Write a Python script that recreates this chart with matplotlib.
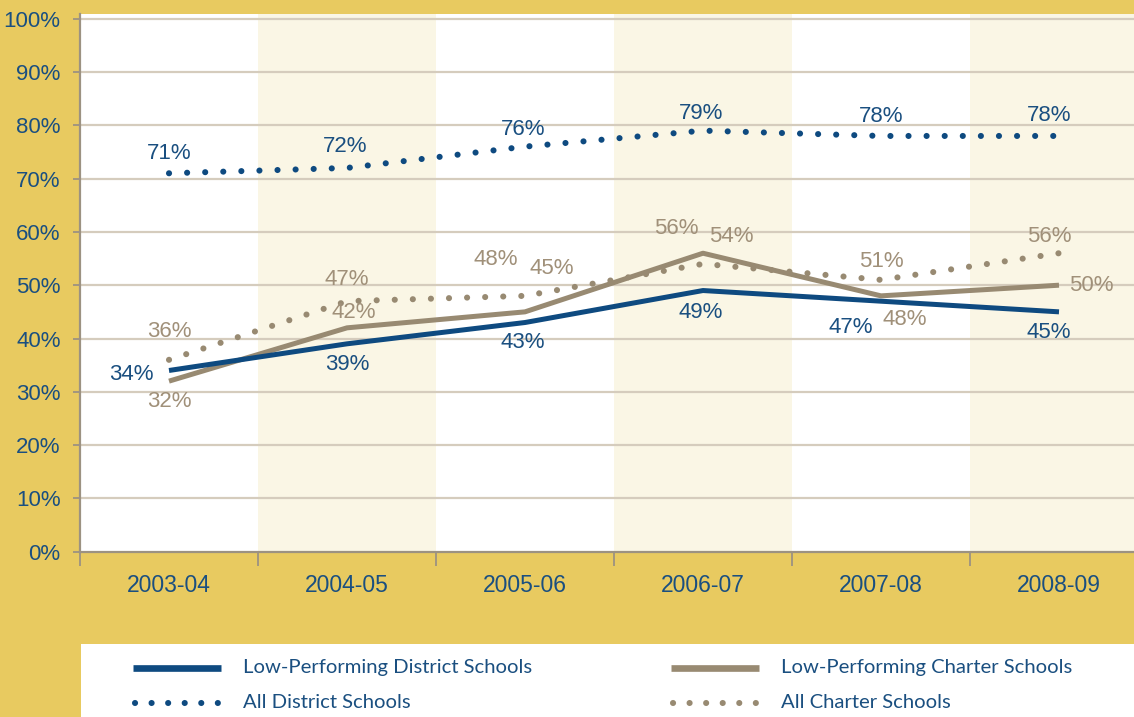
import matplotlib
matplotlib.use("Agg")
import matplotlib.pyplot as plt
from matplotlib.lines import Line2D
from matplotlib.patches import Rectangle

# ---- data ----
years = ["2003-04", "2004-05", "2005-06", "2006-07", "2007-08", "2008-09"]
low_district = [34, 39, 43, 49, 47, 45]
low_charter = [32, 42, 45, 56, 48, 50]
all_district = [71, 72, 76, 79, 78, 78]
all_charter = [36, 47, 48, 54, 51, 56]
yticks = [0, 10, 20, 30, 40, 50, 60, 70, 80, 90, 100]

# ---- label offsets (pixels) ----
off_low_district = [(-38, -4), (0, -21), (-2, -20), (-2, -22), (-30, -26), (-10, -21)]
off_low_charter = [(0, -20), (7, 15), (27, 43), (-27, 25), (24, -24), (32, 0)]
off_all_district = [(0, 20), (-2, 21), (-2, 17), (-2, 17), (0, 19), (-10, 20)]
off_all_charter = [(0, 28), (0, 22), (-29, 36), (28, 27), (0, 18), (-10, 17)]

NAVY = "#0E4A80"
NAVY_TXT = "#1A4F80"
TAN = "#988A72"
TAN_TXT = "#A09079"
GOLD = "#E8CA60"
CREAM = "#FAF6E5"
GRID = "#D5CCBD"
SPINE = "#9C9282"

W, H = 1134, 717
fig = plt.figure(figsize=(W / 100, H / 100), dpi=100)
fig.patch.set_facecolor(GOLD)

left_px, right_px = 80, 80 + 6 * 178
bot_px, top_px = 551.7, 14
ax = fig.add_axes([left_px / W, (H - bot_px) / H, (right_px - left_px) / W, (bot_px - top_px) / H])
ax.set_facecolor("white")
x = list(range(len(years)))
ax.set_xlim(-0.5, len(years) - 0.5)
ax.set_ylim(0, (bot_px - top_px) / 5.33)

for i in range(1, len(years), 2):
    ax.axvspan(i - 0.5, i + 0.5, color=CREAM, zorder=0, lw=0)

ax.set_yticks(yticks)
ax.set_yticklabels([f"{v}%" for v in yticks])
for v in yticks[1:]:
    ax.axhline(v, color=GRID, lw=1.6, zorder=1)

ax.set_xticks(x)
ax.set_xticklabels(years)
ax.set_xticks([i - 0.5 for i in range(len(years) + 1)], minor=True)
ax.tick_params(axis="x", which="major", length=0, pad=16, labelsize=16.5, labelcolor=NAVY_TXT)
ax.tick_params(axis="x", which="minor", length=10, width=1.3, color=SPINE, direction="out")
ax.tick_params(axis="y", length=5, width=1.3, color=SPINE, pad=9, labelsize=16, labelcolor=NAVY_TXT)
for lab in ax.get_xticklabels() + ax.get_yticklabels():
    lab.set_fontfamily("Liberation Sans")

for s in ["top", "right"]:
    ax.spines[s].set_visible(False)
for s in ["left", "bottom"]:
    ax.spines[s].set_color(SPINE)
    ax.spines[s].set_linewidth(1.6)
    ax.spines[s].set_zorder(5)

lw = 3.6
dlw = 4.4
dot = (0, (0.01, 2.95))
ax.plot(x, all_district, color=NAVY, lw=dlw, ls=dot, dash_capstyle="round", zorder=3)
ax.plot(x, all_charter, color=TAN, lw=dlw, ls=dot, dash_capstyle="round", zorder=3)
ax.plot(x, low_charter, color=TAN, lw=lw, solid_capstyle="butt", zorder=4)
ax.plot(x, low_district, color=NAVY, lw=lw, solid_capstyle="butt", zorder=4)

def labels(vals, offs, color):
    for xi, v, (dx, dy) in zip(x, vals, offs):
        ax.annotate(f"{v}%", (xi, v), xytext=(dx, dy), textcoords="offset pixels",
                    ha="center", va="center", fontsize=16, color=color,
                    fontfamily="Liberation Sans", zorder=6)

labels(all_district, off_all_district, NAVY_TXT)
labels(low_district, off_low_district, NAVY_TXT)
labels(low_charter, off_low_charter, TAN_TXT)
labels(all_charter, off_all_charter, TAN_TXT)

# ---- legend ----
fig.add_artist(Rectangle((81 / W, 0), 1 - 81 / W, (H - 644) / H, transform=fig.transFigure,
                         facecolor="white", edgecolor="none", zorder=1))
entries = [
    ("Low-Performing District Schools", NAVY, "solid", 133, 668),
    ("All District Schools", NAVY, "dot", 133, 702.5),
    ("Low-Performing Charter Schools", TAN, "solid", 671, 668),
    ("All Charter Schools", TAN, "dot", 671, 702.5),
]
for text, col, kind, x0, y0 in entries:
    yy = (H - y0) / H
    if kind == "solid":
        fig.add_artist(Line2D([x0 / W, (x0 + 88) / W], [yy, yy], transform=fig.transFigure,
                              color=col, lw=4.8, solid_capstyle="butt", zorder=2))
    else:
        fig.add_artist(Line2D([(x0 + 2) / W, (x0 + 90) / W], [yy, yy], transform=fig.transFigure,
                              color=col, lw=4.4, ls=(0, (0.01, 2.7)), dash_capstyle="round", zorder=2))
    fig.text((x0 + 110) / W, yy, text, ha="left", va="center", fontsize=14.6,
             color=NAVY_TXT, fontfamily="Lato", zorder=3)

fig.savefig("out.png", dpi=100, facecolor=GOLD)
